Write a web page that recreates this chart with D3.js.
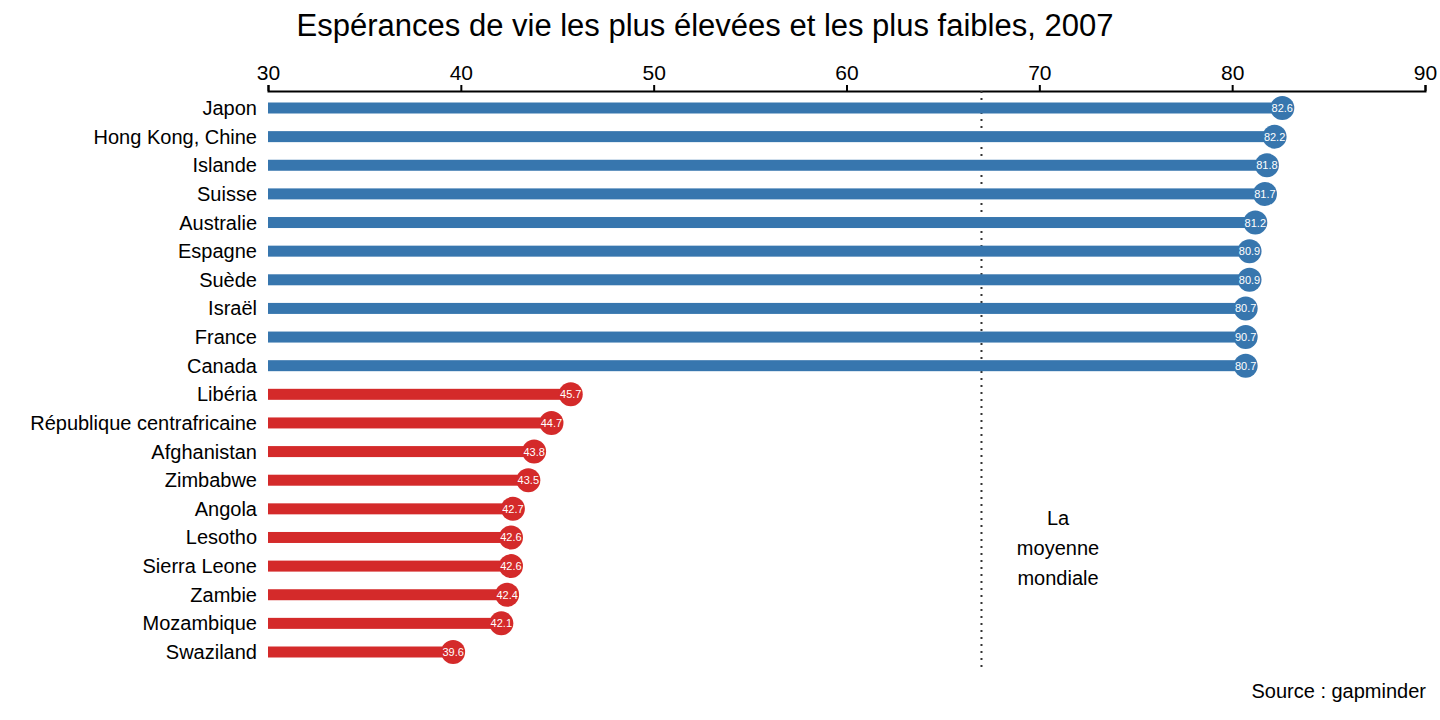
<!DOCTYPE html>
<html><head><meta charset="utf-8">
<script src="https://cdn.jsdelivr.net/npm/d3@7"></script>
<style>body{margin:0;background:#fff;font-family:"Liberation Sans",Arial,sans-serif}</style>
</head><body><svg id="c" width="1440" height="720"></svg>
<script>
var countries = ["Japon","Hong Kong, Chine","Islande","Suisse","Australie","Espagne","Suède","Israël","France","Canada",
  "Libéria","République centrafricaine","Afghanistan","Zimbabwe","Angola","Lesotho","Sierra Leone","Zambie","Mozambique","Swaziland"];
var values = [82.6,82.2,81.8,81.7,81.2,80.9,80.9,80.7,80.7,80.7,45.7,44.7,43.8,43.5,42.7,42.6,42.6,42.4,42.1,39.6];
var valueLabels = ["82.6","82.2","81.8","81.7","81.2","80.9","80.9","80.7","90.7","80.7","45.7","44.7","43.8","43.5","42.7","42.6","42.6","42.4","42.1","39.6"];
var groups = ["high","high","high","high","high","high","high","high","high","high","low","low","low","low","low","low","low","low","low","low"];
var xTicks = [30,40,50,60,70,80,90];
var worldMean = 67.0;

var svg = d3.select("#c");
var x = d3.scaleLinear().domain([30,90]).range([268,1425]);
var y = d3.scalePoint().domain(countries).range([108,652]);
var color = {high:"#3776ae", low:"#d42a2a"};

svg.append("text").attr("x",705).attr("y",36).attr("text-anchor","middle")
  .attr("font-size",31).text("Espérances de vie les plus élevées et les plus faibles, 2007");

var ax = svg.append("g").attr("transform","translate(0,91)")
  .call(d3.axisTop(x).tickValues(xTicks).tickSize(6).tickPadding(5));
ax.select(".domain").attr("stroke","#000").attr("stroke-width",2);
ax.selectAll(".tick line").attr("stroke-width",2);
ax.selectAll("text").attr("font-size",21).attr("font-family","Liberation Sans, Arial, sans-serif");

svg.append("line").attr("x1",x(worldMean)).attr("x2",x(worldMean)).attr("y1",91).attr("y2",668)
  .attr("stroke","#333").attr("stroke-width",2).attr("stroke-dasharray","2,5");

var rows = svg.selectAll(".row").data(countries).enter().append("g");
rows.append("rect").attr("x",x(30)).attr("y",function(d){return y(d)-5.5;})
  .attr("width",function(d,i){return x(values[i])-x(30);}).attr("height",11)
  .attr("fill",function(d,i){return color[groups[i]];});
rows.append("circle").attr("cx",function(d,i){return x(values[i]);}).attr("cy",function(d){return y(d);})
  .attr("r",12).attr("fill",function(d,i){return color[groups[i]];});
rows.append("text").attr("x",function(d,i){return x(values[i]);}).attr("y",function(d){return y(d)+4;})
  .attr("text-anchor","middle").attr("font-size",11).attr("fill","#fff")
  .text(function(d,i){return valueLabels[i];});
rows.append("text").attr("x",257).attr("y",function(d){return y(d)+7;})
  .attr("text-anchor","end").attr("font-size",20).text(function(d){return d;});

var note = ["La","moyenne","mondiale"];
svg.selectAll(".note").data(note).enter().append("text")
  .attr("x",1058).attr("y",function(d,i){return 525+i*30;}).attr("text-anchor","middle")
  .attr("font-size",20).text(function(d){return d;});

svg.append("text").attr("x",1426).attr("y",698).attr("text-anchor","end").attr("font-size",20).text("Source : gapminder");
</script></body></html>
